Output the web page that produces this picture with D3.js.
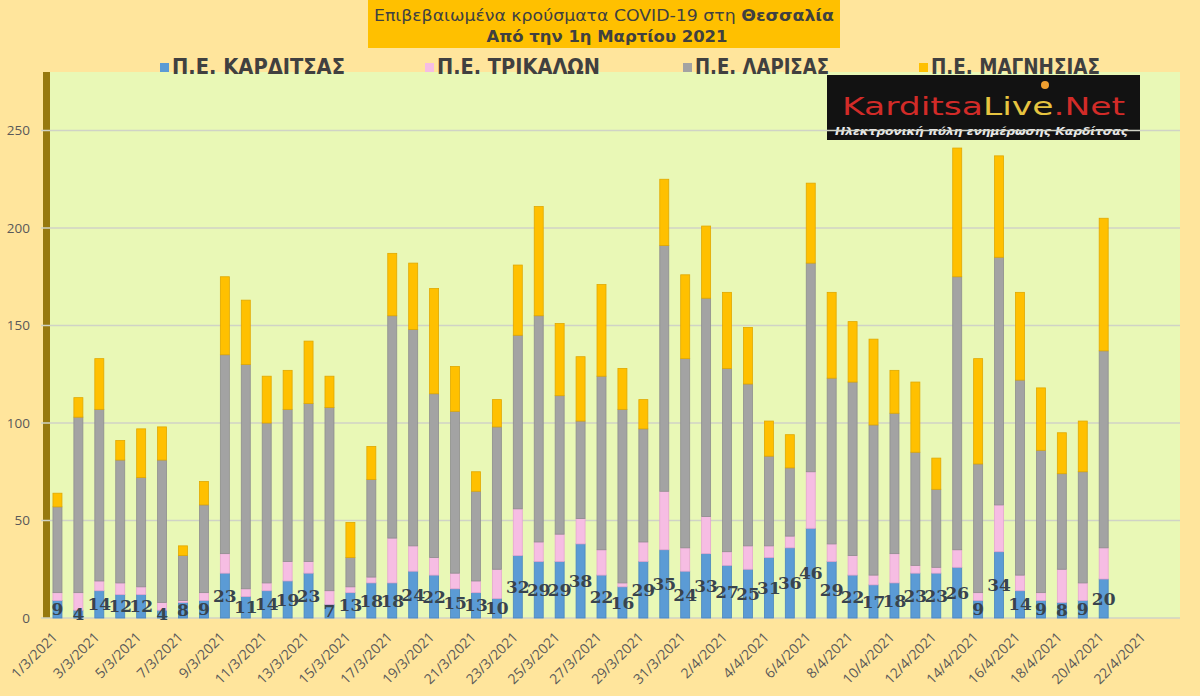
<!DOCTYPE html>
<html>
<head>
<meta charset="utf-8">
<script src="https://cdn.jsdelivr.net/npm/d3@7/dist/d3.min.js"></script>
<style>
  body { margin: 0; background: #FFE59C; }
  svg { display: block; }
</style>
</head>
<body>
<svg id="chart" width="1200" height="696"></svg>
<script>
// Daily confirmed cases per regional unit, 1/3/2021 - 20/4/2021
const dates = [
  '1/3/2021','2/3/2021','3/3/2021','4/3/2021','5/3/2021','6/3/2021','7/3/2021','8/3/2021','9/3/2021','10/3/2021',
  '11/3/2021','12/3/2021','13/3/2021','14/3/2021','15/3/2021','16/3/2021','17/3/2021','18/3/2021','19/3/2021','20/3/2021',
  '21/3/2021','22/3/2021','23/3/2021','24/3/2021','25/3/2021','26/3/2021','27/3/2021','28/3/2021','29/3/2021','30/3/2021',
  '31/3/2021','1/4/2021','2/4/2021','3/4/2021','4/4/2021','5/4/2021','6/4/2021','7/4/2021','8/4/2021','9/4/2021',
  '10/4/2021','11/4/2021','12/4/2021','13/4/2021','14/4/2021','15/4/2021','16/4/2021','17/4/2021','18/4/2021','19/4/2021',
  '20/4/2021','21/4/2021','22/4/2021'
];

const karditsa = [9,4,14,12,12,4,8,9,23,11, 14,19,23,7,13,18,18,24,22,15, 13,10,32,29,29,38,22,16,29,35,
  24,33,27,25,31,36,46,29,22,17, 18,23,23,26,9,34,14,9,8,9, 20];
const trikala = [4,9,5,6,4,4,1,4,10,4, 4,10,6,7,3,3,23,13,9,8, 6,15,24,10,14,13,13,2,10,30,
  12,19,7,12,6,6,29,9,10,5, 15,4,3,9,4,24,8,4,17,9, 16];
const larisa = [44,90,88,63,56,73,23,45,102,115, 82,78,81,94,15,50,114,111,84,83, 46,73,89,116,71,50,89,89,58,126,
  97,112,94,83,46,35,107,85,89,77, 72,58,40,140,66,127,100,73,49,57, 101];
const magnisia = [7,10,26,10,25,17,5,12,40,33, 24,20,32,16,18,17,32,34,54,23, 10,14,36,56,37,33,47,21,15,34,
  43,37,39,29,18,17,41,44,31,44, 22,36,16,66,54,52,45,32,21,26, 68];

const seriesKeys = ['k', 't', 'l', 'm'];
const seriesNames = ['Π.Ε. ΚΑΡΔΙΤΣΑΣ', 'Π.Ε. ΤΡΙΚΑΛΩΝ', 'Π.Ε. ΛΑΡΙΣΑΣ', 'Π.Ε. ΜΑΓΝΗΣΙΑΣ'];
const seriesColors = ['#5B9BD5', '#F6BDE3', '#A3A3A3', '#FFC000'];
const seriesEdges = ['#4A86BE', '#E5A6D0', '#8E8E8E', '#E0A800'];
const yTicks = [0, 50, 100, 150, 200, 250];

const svg = d3.select('#chart');
const plot = { left: 50, right: 1180, top: 72, bottom: 618 };

const rows = karditsa.map((v, i) => ({ date: dates[i], k: v, t: trikala[i], l: larisa[i], m: magnisia[i] }));
const stacked = d3.stack().keys(seriesKeys)(rows);

const x = d3.scaleBand().domain(dates).range([47, 1156]);
const y = d3.scaleLinear().domain([0, 280]).range([plot.bottom, plot.top]);
const cx = d => x(d) + x.bandwidth() / 2;
const barW = 9;

// background + plot area
svg.append('rect').attr('width', 1200).attr('height', 696).attr('fill', '#FFE59C');
svg.append('rect')
  .attr('x', plot.left).attr('y', plot.top)
  .attr('width', plot.right - plot.left).attr('height', plot.bottom - plot.top)
  .attr('fill', '#E9F8B6');

// left wall of the 3d chart
svg.append('rect')
  .attr('x', 43).attr('y', plot.top)
  .attr('width', 7).attr('height', plot.bottom - plot.top)
  .attr('fill', '#97790F');

// logo
const logo = svg.append('g');
logo.append('rect').attr('x', 827).attr('y', 75).attr('width', 313).attr('height', 65).attr('fill', '#121212');
const logoText = logo.append('text')
  .attr('x', 842).attr('y', 115)
  .attr('font-family', 'DejaVu Sans, sans-serif')
  .attr('font-size', 24)
  .attr('textLength', 283).attr('lengthAdjust', 'spacingAndGlyphs');
logoText.append('tspan').attr('fill', '#D22B28').text('Karditsa');
logoText.append('tspan').attr('fill', '#E6C440').text('Live');
logoText.append('tspan').attr('fill', '#D22B28').text('.Net');
logo.append('circle').attr('cx', 1045).attr('cy', 85).attr('r', 4).attr('fill', '#F0A030');
logo.append('text')
  .attr('x', 835).attr('y', 135)
  .attr('font-family', 'DejaVu Sans, sans-serif')
  .attr('font-size', 10).attr('font-weight', 'bold').attr('font-style', 'italic')
  .attr('fill', '#E8E8E8')
  .attr('textLength', 293).attr('lengthAdjust', 'spacingAndGlyphs')
  .text('Ηλεκτρονική πύλη ενημέρωσης Καρδίτσας');

// gridlines
svg.append('g').selectAll('line').data(yTicks).join('line')
  .attr('x1', 41).attr('x2', plot.right)
  .attr('y1', d => y(d)).attr('y2', d => y(d))
  .attr('stroke', '#D0D3C6').attr('stroke-width', 1.5);

// y tick labels
svg.append('g').selectAll('text').data(yTicks).join('text')
  .attr('x', 30).attr('y', d => y(d))
  .attr('dy', '0.35em')
  .attr('text-anchor', 'end')
  .attr('font-family', 'Open Sans, sans-serif').attr('font-size', 13.5)
  .attr('fill', '#595959')
  .text(d => d);

// stacked bars
svg.append('g').selectAll('g').data(stacked).join('g')
  .attr('fill', (d, i) => seriesColors[i])
  .attr('stroke', (d, i) => seriesEdges[i])
  .attr('stroke-width', 0.8)
  .selectAll('rect').data(d => d).join('rect')
  .attr('x', d => cx(d.data.date) - barW / 2)
  .attr('y', d => y(d[1]))
  .attr('width', barW)
  .attr('height', d => Math.max(0, y(d[0]) - y(d[1])));

// x labels every second day
svg.append('g').selectAll('text').data(dates.filter((d, i) => i % 2 === 0)).join('text')
  .attr('transform', d => `translate(${cx(d) + 1},${638}) rotate(-45)`)
  .attr('text-anchor', 'end')
  .attr('font-family', 'Open Sans, sans-serif').attr('font-size', 14)
  .attr('fill', '#595959')
  .text(d => d);

// Karditsa data labels, centred in the blue segment
svg.append('g').selectAll('text').data(rows).join('text')
  .attr('x', d => cx(d.date))
  .attr('y', d => y(d.k / 2))
  .attr('dy', '0.36em')
  .attr('text-anchor', 'middle')
  .attr('font-family', 'DejaVu Serif, serif').attr('font-weight', 'bold').attr('font-size', 17)
  .attr('fill', '#38444F')
  .text(d => d.k);

// title box
svg.append('rect').attr('x', 368).attr('y', 0).attr('width', 472).attr('height', 48).attr('fill', '#FFC000');
const t1 = svg.append('text')
  .attr('x', 604).attr('y', 21)
  .attr('text-anchor', 'middle')
  .attr('font-family', 'DejaVu Sans, sans-serif').attr('font-size', 15)
  .attr('fill', '#404040')
  .attr('textLength', 460).attr('lengthAdjust', 'spacingAndGlyphs');
t1.append('tspan').text('Επιβεβαιωμένα κρούσματα COVID-19 στη ');
t1.append('tspan').attr('font-weight', 'bold').text('Θεσσαλία');
svg.append('text')
  .attr('x', 607).attr('y', 42)
  .attr('text-anchor', 'middle')
  .attr('font-family', 'DejaVu Sans, sans-serif').attr('font-size', 15).attr('font-weight', 'bold')
  .attr('fill', '#404040')
  .attr('textLength', 241).attr('lengthAdjust', 'spacingAndGlyphs')
  .text('Από την 1η Μαρτίου 2021');

// legend
const legendX = [160, 425, 683, 919];
const legendW = [173, 163, 134, 169];
const legend = svg.append('g').selectAll('g').data(seriesNames).join('g')
  .attr('transform', (d, i) => `translate(${legendX[i]},0)`);
legend.append('rect')
  .attr('x', 0).attr('y', 63).attr('width', 9).attr('height', 9)
  .attr('fill', (d, i) => seriesColors[i]);
legend.append('text')
  .attr('x', 12).attr('y', 74)
  .attr('font-family', 'Liberation Sans Narrow, DejaVu Sans Condensed, sans-serif')
  .attr('font-size', 22).attr('font-weight', 'bold')
  .attr('fill', '#404040')
  .attr('textLength', (d, i) => legendW[i]).attr('lengthAdjust', 'spacingAndGlyphs')
  .text(d => d);
</script>
</body>
</html>
